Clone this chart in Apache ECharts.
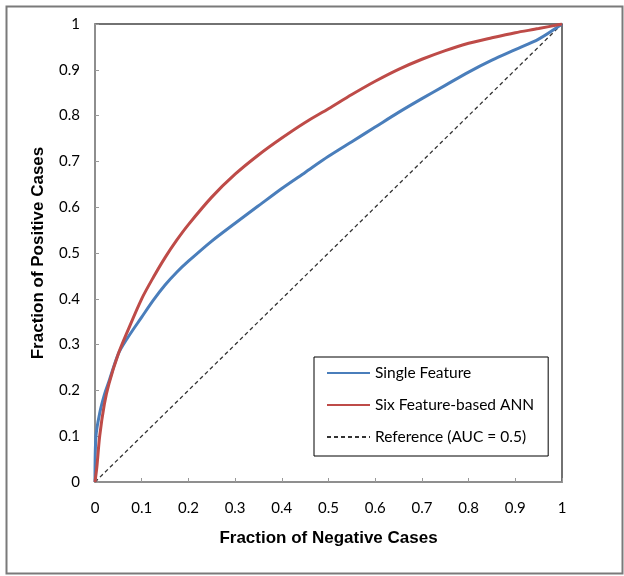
<!DOCTYPE html>
<html>
<head>
<meta charset="utf-8">
<script src="https://cdn.jsdelivr.net/npm/echarts@6/dist/echarts.min.js"></script>
<style>html,body{margin:0;padding:0;background:#fff}#c{width:624px;height:576px}</style>
</head>
<body>
<div id="c"></div>
<script>
const singleX = [0, 0.002, 0.01, 0.02, 0.03, 0.05, 0.07, 0.1, 0.125, 0.15, 0.175, 0.2, 0.25, 0.3, 0.35, 0.4, 0.45, 0.5, 0.55, 0.6, 0.65, 0.7, 0.75, 0.8, 0.85, 0.9, 0.95, 1];
const singleY = [0, 0.1, 0.15, 0.19, 0.22, 0.28, 0.315, 0.36, 0.397, 0.43, 0.458, 0.482, 0.526, 0.565, 0.603, 0.641, 0.676, 0.711, 0.743, 0.775, 0.807, 0.837, 0.866, 0.895, 0.921, 0.944, 0.967, 1];
const annX = [0, 0.004, 0.01, 0.02, 0.03, 0.05, 0.07, 0.1, 0.125, 0.15, 0.175, 0.2, 0.25, 0.3, 0.35, 0.4, 0.45, 0.5, 0.55, 0.6, 0.65, 0.7, 0.75, 0.8, 0.85, 0.9, 0.95, 1];
const annY = [0, 0.033, 0.1, 0.17, 0.215, 0.28, 0.33, 0.4, 0.447, 0.49, 0.528, 0.562, 0.622, 0.672, 0.714, 0.751, 0.785, 0.815, 0.846, 0.875, 0.901, 0.923, 0.942, 0.958, 0.97, 0.981, 0.99, 1];
const refX = [0, 1];
const refY = [0, 1];
const seriesNames = ['Single Feature', 'Six Feature-based ANN', 'Reference (AUC = 0.5)'];
const xTitle = 'Fraction of Negative Cases';
const yTitle = 'Fraction of Positive Cases';

const zip = (a, b) => a.map((v, i) => [v, b[i]]);
const chart = echarts.init(document.getElementById('c'), null, {renderer: 'canvas'});
const labelFont = {fontFamily: 'Lato', fontSize: 15, color: '#000'};
const titleFont = {fontFamily: 'Liberation Sans', fontWeight: 'bold', fontSize: 17, color: '#000'};
chart.setOption({
  animation: false,
  backgroundColor: '#fff',
  graphic: [{
    type: 'rect', left: 4, top: 4, shape: {width: 616, height: 567},
    style: {fill: 'none', stroke: '#7a7a7a', lineWidth: 2}, z: 0
  }],
  grid: {left: 95, right: 62, top: 24, bottom: 94, show: true, borderColor: '#444', borderWidth: 1.5, backgroundColor: 'transparent'},
  xAxis: {
    type: 'value', min: 0, max: 1, interval: 0.1,
    name: xTitle, nameLocation: 'middle', nameGap: 48,
    nameTextStyle: titleFont,
    axisLine: {show: true, lineStyle: {color: '#999', width: 1.5}},
    axisTick: {show: true, inside: true, length: 4, lineStyle: {color: '#999'}},
    axisLabel: Object.assign({margin: 19}, labelFont),
    splitLine: {show: false}
  },
  yAxis: {
    type: 'value', min: 0, max: 1, interval: 0.1,
    name: yTitle, nameLocation: 'middle', nameGap: 48,
    nameTextStyle: titleFont,
    axisLine: {show: true, lineStyle: {color: '#999', width: 1.5}},
    axisTick: {show: true, inside: true, length: 4, lineStyle: {color: '#999'}},
    axisLabel: Object.assign({margin: 15}, labelFont),
    splitLine: {show: false}
  },
  legend: {
    orient: 'vertical', left: 314, top: 357,
    data: seriesNames,
    backgroundColor: '#fff', borderColor: '#000', borderWidth: 1, borderRadius: 0,
    padding: [8, 14, 11, 12], itemGap: 16, itemWidth: 43, itemHeight: 14,
    itemStyle: {opacity: 0},
    textStyle: {fontFamily: 'Lato', fontSize: 15.5, color: '#000'}
  },
  series: [
    {name: seriesNames[2], type: 'line', data: zip(refX, refY), symbol: 'none',
     lineStyle: {color: '#333', width: 1.3, type: [4, 3]}, itemStyle: {color: '#333'}, z: 2},
    {name: seriesNames[0], type: 'line', data: zip(singleX, singleY), symbol: 'none', smooth: 0.3,
     lineStyle: {color: '#4A7EBB', width: 3}, itemStyle: {color: '#4A7EBB'}, z: 3},
    {name: seriesNames[1], type: 'line', data: zip(annX, annY), symbol: 'none', smooth: 0.3,
     lineStyle: {color: '#BE4B48', width: 3}, itemStyle: {color: '#BE4B48'}, z: 4}
  ]
});
</script>
</body>
</html>
